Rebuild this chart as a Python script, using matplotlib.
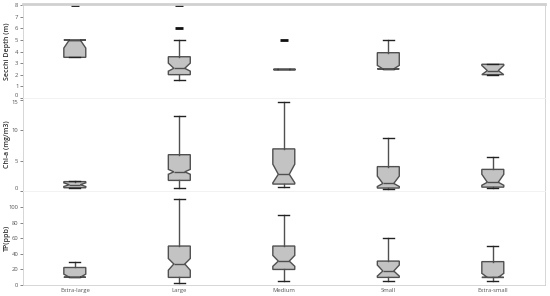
import matplotlib
matplotlib.use("Agg")
import matplotlib.pyplot as plt

plt.rcParams["font.family"] = ["Open Sans", "DejaVu Sans"]

CATEGORIES = ["Extra-large", "Large", "Medium", "Small", "Extra-small"]

# Secchi Depth (m)
secchi_whislo = [3.5, 1.5, 2.5, 2.5, 2.0]
secchi_q1 = [3.5, 2.0, 2.5, 2.5, 2.0]
secchi_cilo = [4.3, 2.3, 2.5, 2.5, 2.0]
secchi_med = [5.0, 2.55, 2.5, 2.5, 2.35]
secchi_cihi = [5.0, 3.0, 2.5, 2.8, 2.8]
secchi_q3 = [5.0, 3.55, 2.5, 3.9, 2.9]
secchi_whishi = [5.0, 5.0, 2.5, 5.0, 2.9]
secchi_fliers = [[8.0], [6.0, 8.0], [5.0], [], []]

# Chl-a (mg/m3)
chla_whislo = [0.5, 0.57, 0.67, 0.4, 0.6]
chla_q1 = [0.6, 1.8, 1.2, 0.55, 0.7]
chla_cilo = [0.8, 2.8, 1.4, 0.8, 1.0]
chla_med = [1.1, 3.2, 2.8, 1.3, 1.5]
chla_cihi = [1.4, 3.6, 4.45, 2.5, 2.8]
chla_q3 = [1.6, 6.0, 6.95, 4.05, 3.6]
chla_whishi = [1.7, 12.3, 14.6, 8.7, 5.55]
chla_fliers = [[], [], [], [], []]

# TP (ppb)
tp_whislo = [10, 2, 5.5, 5.5, 5.5]
tp_q1 = [10, 9.8, 20, 9.8, 9.8]
tp_cilo = [10, 19, 24, 11.5, 9.8]
tp_med = [10, 27, 30.7, 18, 9.8]
tp_cihi = [14, 34, 38, 25.6, 15]
tp_q3 = [22.5, 50, 50, 30.7, 30]
tp_whishi = [30, 110, 89.5, 60, 50]
tp_fliers = [[], [], [], [], []]

panels = [
    ("Secchi Depth (m)", (0, 8.1), list(range(0, 9)),
     secchi_whislo, secchi_q1, secchi_cilo, secchi_med, secchi_cihi, secchi_q3, secchi_whishi, secchi_fliers),
    ("Chl-a (mg/m3)", (0, 15.3), [0, 5, 10, 15],
     chla_whislo, chla_q1, chla_cilo, chla_med, chla_cihi, chla_q3, chla_whishi, chla_fliers),
    ("TP(ppb)", (0, 120), [0, 20, 40, 60, 80, 100],
     tp_whislo, tp_q1, tp_cilo, tp_med, tp_cihi, tp_q3, tp_whishi, tp_fliers),
]

BOX_FILL = "#c3c3c3"
EDGE = "#505050"
SPINE = "#d0d0d0"
TICK_COLOR = "#555555"

fig, axes = plt.subplots(3, 1, figsize=(5.5, 2.96), dpi=100, sharex=True)
fig.subplots_adjust(left=0.041, right=0.991, top=0.986, bottom=0.037, hspace=0)

for idx, (ax, panel) in enumerate(zip(axes, panels)):
    label, ylim, yticks, whislo, q1, cilo, med, cihi, q3, whishi, fliers = panel
    stats = []
    for i in range(len(CATEGORIES)):
        stats.append(dict(whislo=whislo[i], q1=q1[i], cilo=cilo[i], med=med[i],
                          cihi=cihi[i], q3=q3[i], whishi=whishi[i], fliers=fliers[i]))
    ax.bxp(stats, positions=range(len(CATEGORIES)), widths=0.21, shownotches=True,
           patch_artist=True, showfliers=True,
           boxprops=dict(facecolor=BOX_FILL, edgecolor=EDGE, linewidth=1.0),
           medianprops=dict(color=EDGE, linewidth=1.0),
           whiskerprops=dict(color=EDGE, linewidth=1.0),
           capprops=dict(color="#222222", linewidth=1.0),
           flierprops=dict(marker="_", markersize=6, markeredgewidth=2,
                           markeredgecolor="#111111"))
    ax.set_xlim(-0.5, len(CATEGORIES) - 0.5)
    ax.set_ylim(*ylim)
    ax.set_yticks(yticks)
    ax.set_ylabel(label, fontsize=5, fontweight="semibold", color="#333333")
    ax.yaxis.set_label_coords(-0.022, 0.5)
    ax.tick_params(axis="y", labelsize=4.2, colors=TICK_COLOR, length=2, width=0.5, pad=1)
    ax.tick_params(axis="x", labelsize=4.2, colors=TICK_COLOR, length=0, pad=2)
    for side in ["left", "right", "bottom", "top"]:
        ax.spines[side].set_color(SPINE)
        ax.spines[side].set_linewidth(0.6)
    if idx == 0:
        ax.spines["top"].set_linewidth(2.0)
    else:
        ax.spines["top"].set_color("#f0f0f0")
    if idx < 2:
        ax.spines["bottom"].set_color("#f0f0f0")

# keep the shared-edge tick labels from sitting on top of each other
axes[0].get_yticklabels()[0].set_va("bottom")
axes[1].get_yticklabels()[-1].set_va("top")
axes[1].get_yticklabels()[0].set_va("bottom")

axes[-1].set_xticks(range(len(CATEGORIES)))
axes[-1].set_xticklabels(CATEGORIES)

fig.savefig("out.png", dpi=100)
